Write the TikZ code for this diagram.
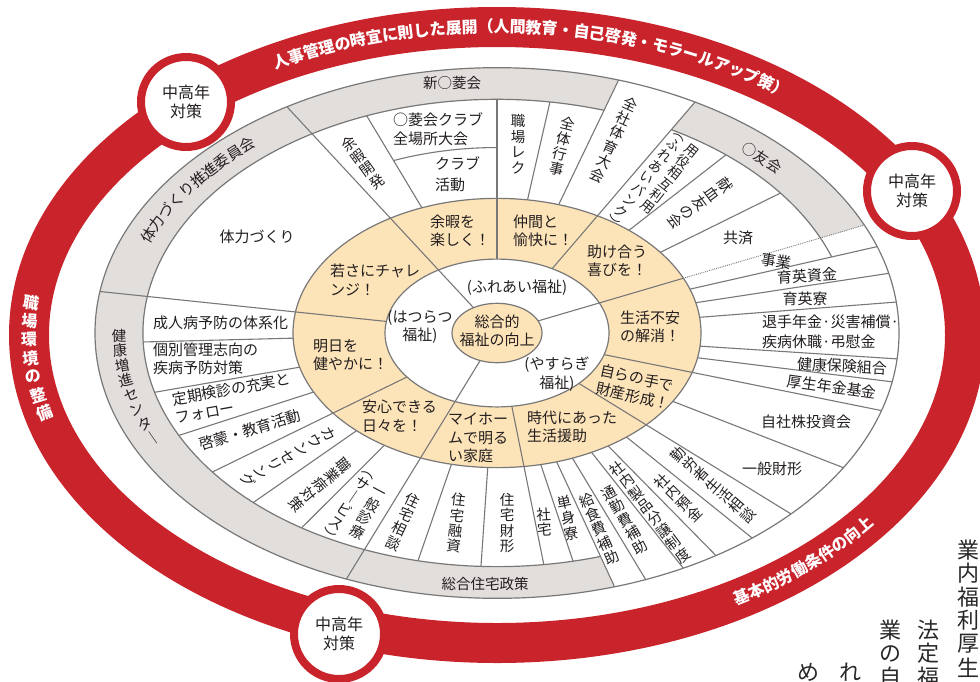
\documentclass[tikz,border=0pt]{standalone}
\usepackage{fontspec}
\setmainfont{Noto Sans CJK JP}
\usepackage{graphicx}
\usetikzlibrary{decorations.text}
\definecolor{wred}{RGB}{201,36,43}
\definecolor{worange}{RGB}{253,227,184}
\definecolor{wband}{RGB}{226,222,220}
\definecolor{wline}{RGB}{120,120,120}
\definecolor{wtext}{RGB}{35,31,32}
\definecolor{wserif}{RGB}{40,40,40}
\begin{document}
\begin{tikzpicture}[x=1pt,y=1pt,
  every node/.style={inner sep=0pt, text=wtext},
  lbl/.style={font=\fontsize{15}{18.5}\selectfont, align=left},
  lblc/.style={font=\fontsize{15}{18.5}\selectfont, align=center},
  vlbl/.style={font=\fontsize{14.5}{15.5}\selectfont, align=center},
  vlbls/.style={font=\fontsize{13.5}{14.2}\selectfont, align=center},
  bandlbl/.style={font=\fontsize{14.5}{15.5}\selectfont},
  redlbl/.style={text=white, font=\fontsize{16}{16}\selectfont\bfseries},
  seriflbl/.style={text=wserif, font=\fontsize{22}{22}\selectfont},
  div/.style={draw=wline, line width=1.1pt},
  ring/.style={draw=wline, line width=1.2pt},
  badge/.style={circle, draw=wred, line width=8pt, fill=white, minimum size=90pt, align=center, font=\fontsize{16}{18.5}\selectfont}
]
\useasboundingbox (0,0) rectangle (980,-681);
\clip (0,0) rectangle (980,-681);

% ---------- red outer ring ----------
\draw[wred, line width=40pt] (497,-335) ellipse [x radius=468, y radius=308];

% ---------- main wheel ----------
\begin{scope}[shift={(497,-333)}, yscale=0.66]
  \fill[white] (0,0) circle[radius=402];
  \foreach \sa/\sb in {72.4/121.5, 121.5/171, 171/248, 248/287, 24/60.5}
    \fill[wband] (\sa:402) arc[start angle=\sa, end angle=\sb, radius=402]
      -- (\sb:354) arc[start angle=\sb, end angle=\sa, radius=354] -- cycle;
  \fill[worange] (0,0) circle[radius=204];
  \fill[white] (0,0) circle[radius=112];
  \fill[worange] (0,0) circle[radius=45];
  \draw[ring] (0,0) circle[radius=402];
  \draw[ring] (0,0) circle[radius=204];
  \draw[ring] (0,0) circle[radius=112];
  \draw[ring] (0,0) circle[radius=45];
  \draw[ring] (19:354) arc[start angle=19, end angle=60.5, radius=354];
  \draw[ring] (72.4:354) arc[start angle=72.4, end angle=287, radius=354];
  \draw[div] (90:281) arc[start angle=90, end angle=111.6, radius=281];
  \foreach \spA/\spR/\spS in {121.5/45/402, 248/45/402, 24/45/204,
      90/112/354, 60.5/112/402, 171/112/402, 216.5/112/354, -17/112/402,
      -82.4/112/354, -43/112/402,
      111.6/204/354, 81.4/204/354, 72.4/204/402, 49.7/204/354, 36.8/204/354,
      19/204/402, 13/204/402, 6.7/204/402, -5.6/204/402, -10.6/204/402,
      -30.5/204/402, -50.6/204/402, -57/204/402, -62.4/204/402, -68.3/204/402,
      -73/204/402, -77.6/204/354, -92.6/204/354, -102.9/204/354,
      236.5/204/354, 226.5/204/354, 206/204/354, 194.7/204/354, 182.2/204/354}
    \draw[div] (\spA:\spR) -- (\spA:\spS);
  \draw[draw=wline, line width=0.9pt, densely dotted] (24:204) -- (24:402);
\end{scope}

% ---------- centre ----------
\node[lblc] (c0) at (497,-331) {総合的\\福祉の向上};
\node[lblc] (i1) at (517,-288) {(ふれあい福祉)};
\node[lblc] (i2) at (420,-327) {(はつらつ\\福祉)};
\node[lblc] (i3) at (557,-374) {(やすらぎ\\福祉)};

% ---------- orange ring ----------
\node[lbl, anchor=west] (o1) at (430,-231) {余暇を\\楽しく！};
\node[lbl, anchor=west] (o2) at (513,-231) {仲間と\\愉快に！};
\node[lbl, anchor=west] (o3) at (587,-261) {助け合う\\喜びを！};
\node[lbl, anchor=west] (o4) at (330,-280) {若さにチャレ\\ンジ！};
\node[lbl, anchor=west] (o5) at (313,-355) {明日を\\健やかに！};
\node[lbl, anchor=west] (o6) at (362,-416) {安心できる\\日々を！};
\node[lbl, anchor=west] (o7) at (448,-438) {マイホー\\ムで明る\\い家庭};
\node[lbl, anchor=west] (o8) at (527,-427) {時代にあった\\生活援助};
\node[lbl, anchor=west] (o9) at (620,-327) {生活不安\\の解消！};
\node[lbl, rotate=-12] (o10) at (635,-387) {自らの手で\\財産形成！};

% ---------- outer cells, left / top ----------
\node[lbl] (l0) at (257,-237) {体力づくり};
\node[lbl, anchor=west] (l1) at (153,-323) {成人病予防の体系化};
\node[lbl, anchor=west] (l2) at (153,-359) {個別管理志向の\\疾病予防対策};
\node[lbl, rotate=10] (l3) at (233,-398) {定期検診の充実と\\フォロー};
\node[lbl, rotate=17] (l4) at (250,-430) {啓蒙・教育活動};
\node[lbl, anchor=west] (t1) at (393,-129) {○菱会クラブ\\全場所大会};
\node[lbl, anchor=west] (t2) at (435,-174) {クラブ\\[3pt]活動};

\node[vlbl, rotate=36] (v1) at (363,-163) {余\\暇\\開\\発};
\node[vlbl] (v2) at (518,-144) {職\\場\\レ\\ク};
\node[vlbl, rotate=-13.7] (v3) at (562,-146) {全\\体\\行\\事};
\node[vlbl, rotate=-24.6] (v4) at (614,-140) {全\\社\\体\\育\\大\\会};
\node[vlbls, rotate=-38] (v5) at (670,-179) {用\\役\\相\\互\\利\\用};
\node[vlbls, rotate=-38] (v6) at (645,-181) {︵\\ふ\\れ\\あ\\い\\バ\\ン\\ク\\︶};
\node[vlbl, rotate=-53.5] (v7) at (700,-203) {献\\血\\友\\の\\会};

% ---------- outer cells, bottom ----------
\node[vlbl, rotate=-28] (v8) at (367,-514) {一\\般\\診\\療};
\node[vlbl, rotate=-34] (v9) at (347,-507) {︵\\サ\\｜\\ビ\\ス\\︶};
\node[vlbl, rotate=-50] (v10) at (320,-485) {職\\業\\病\\対\\策};
\node[vlbl, rotate=-60.5] (v11) at (288,-457) {カ\\ウ\\ン\\セ\\リ\\ン\\グ};
\node[vlbl, rotate=-25] (v12) at (403,-522) {住\\宅\\相\\談};
\node[vlbl, rotate=-6] (v13) at (456,-523) {住\\宅\\融\\資};
\node[vlbl] (v14) at (507,-523) {住\\宅\\財\\形};
\node[vlbl, rotate=3] (v15) at (544,-522) {社\\宅};
\node[vlbl, rotate=12] (v16) at (568,-518) {単\\身\\寮};
\node[vlbl, rotate=24] (v17) at (599,-529) {給\\食\\費\\補\\助};
\node[vlbl, rotate=30] (v18) at (625,-520) {通\\勤\\費\\補\\助};
\node[vlbl, rotate=37] (v19) at (650,-512) {社\\内\\製\\品\\分\\譲\\制\\度};
\node[vlbl, rotate=45] (v20) at (678,-498) {社\\内\\預\\金};
\node[vlbl, rotate=49] (v21) at (713,-485) {勤\\労\\者\\生\\活\\相\\談};

% ---------- outer cells, right ----------
\node[lbl] (r1) at (738,-238) {共済};
\node[lbl, rotate=-10] (r2) at (776,-261) {事業};
\node[lbl, rotate=4] (r3) at (807,-276) {育英資金};
\node[lbl] (r4) at (805,-299) {育英寮};
\node[lbl, anchor=west] (r5) at (762,-332) {退手年金·災害補償·\\[1.5pt]疾病休職·弔慰金};
\node[lbl, rotate=-3] (r6) at (842,-366) {健康保険組合};
\node[lbl, rotate=-8] (r7) at (832,-387) {厚生年金基金};
\node[lbl] (r8) at (806,-422) {自社株投資会};
\node[lbl] (r9) at (772,-469) {一般財形};

% ---------- band labels ----------
\node[bandlbl] (b1) at (452,-83) {新○菱会};
\node[bandlbl, rotate=-33] (b2) at (762,-158) {○友会};
\node[bandlbl] (b3) at (485,-584) {総合住宅政策};
\path[decorate, decoration={text along path, text align=center, raise=-5pt, text color=wtext,
    text={|\fontsize{15}{15}\selectfont|体力づくり推進委員会}}]
  (497,-333) ++(169:378 and 249.5) arc[start angle=169, end angle=122, x radius=378, y radius=249.5];
\foreach \ch [count=\k from 0] in {健,康,増,進,セ,ン,タ,｜} {
  \pgfmathsetmacro{\tang}{180.6+3.45*\k}
  \pgfmathsetmacro{\rotang}{atan2(-378*sin(\tang), -249.5*cos(\tang))}
  \path (497,-333) ++(\tang:378 and 249.5) node[bandlbl, rotate=\rotang] (kc\k) {\ch};
}

% ---------- red ring labels ----------
\path[decorate, decoration={text along path, text align=center, raise=-5.5pt, text color=white,
    text={|\fontsize{16}{16}\selectfont\bfseries|人事管理の時宜に則した展開（人間教育・自己啓発・モラールアップ策）}}]
  (497,-335) ++(121:468 and 308) arc[start angle=121, end angle=49, x radius=468, y radius=308];
\path[decorate, decoration={text along path, text align=center, raise=-5.5pt, text color=white,
    text={|\fontsize{16}{16}\selectfont\bfseries|基本的労働条件の向上}}]
  (497,-335) ++(-62:468 and 308) arc[start angle=-62, end angle=-34, x radius=468, y radius=308];
\foreach \ch [count=\k from 0] in {職,場,環,境,の,整,備} {
  \pgfmathsetmacro{\tang}{174+3.45*\k}
  \pgfmathsetmacro{\rotang}{atan2(-468*sin(\tang), -308*cos(\tang))}
  \path (497,-335) ++(\tang:468 and 308) node[redlbl, rotate=\rotang] (lb\k) {\ch};
}

% ---------- badges ----------
\node[badge] (m1) at (186,-102) {中高年\\対策};
\node[badge] (m2) at (912,-191) {中高年\\対策};
\node[badge] (m3) at (339,-634) {中高年\\対策};

% ---------- vertical text, lower right ----------
\foreach \ch [count=\k from 0] in {業,内,福,利,厚,生}
  \node[seriflbl] (sa\k) at (968,{-550-23.5*\k}) {\ch};
\foreach \ch [count=\k from 0] in {法,定,福}
  \node[seriflbl] (sb\k) at (928,{-630-23.5*\k}) {\ch};
\foreach \ch [count=\k from 0] in {業,の,自}
  \node[seriflbl] (sc\k) at (890,{-630-23.5*\k}) {\ch};
\node[seriflbl] (sd0) at (850,-672) {れ};
\node[seriflbl] (se0) at (808,-672) {め};
\end{tikzpicture}
\end{document}
